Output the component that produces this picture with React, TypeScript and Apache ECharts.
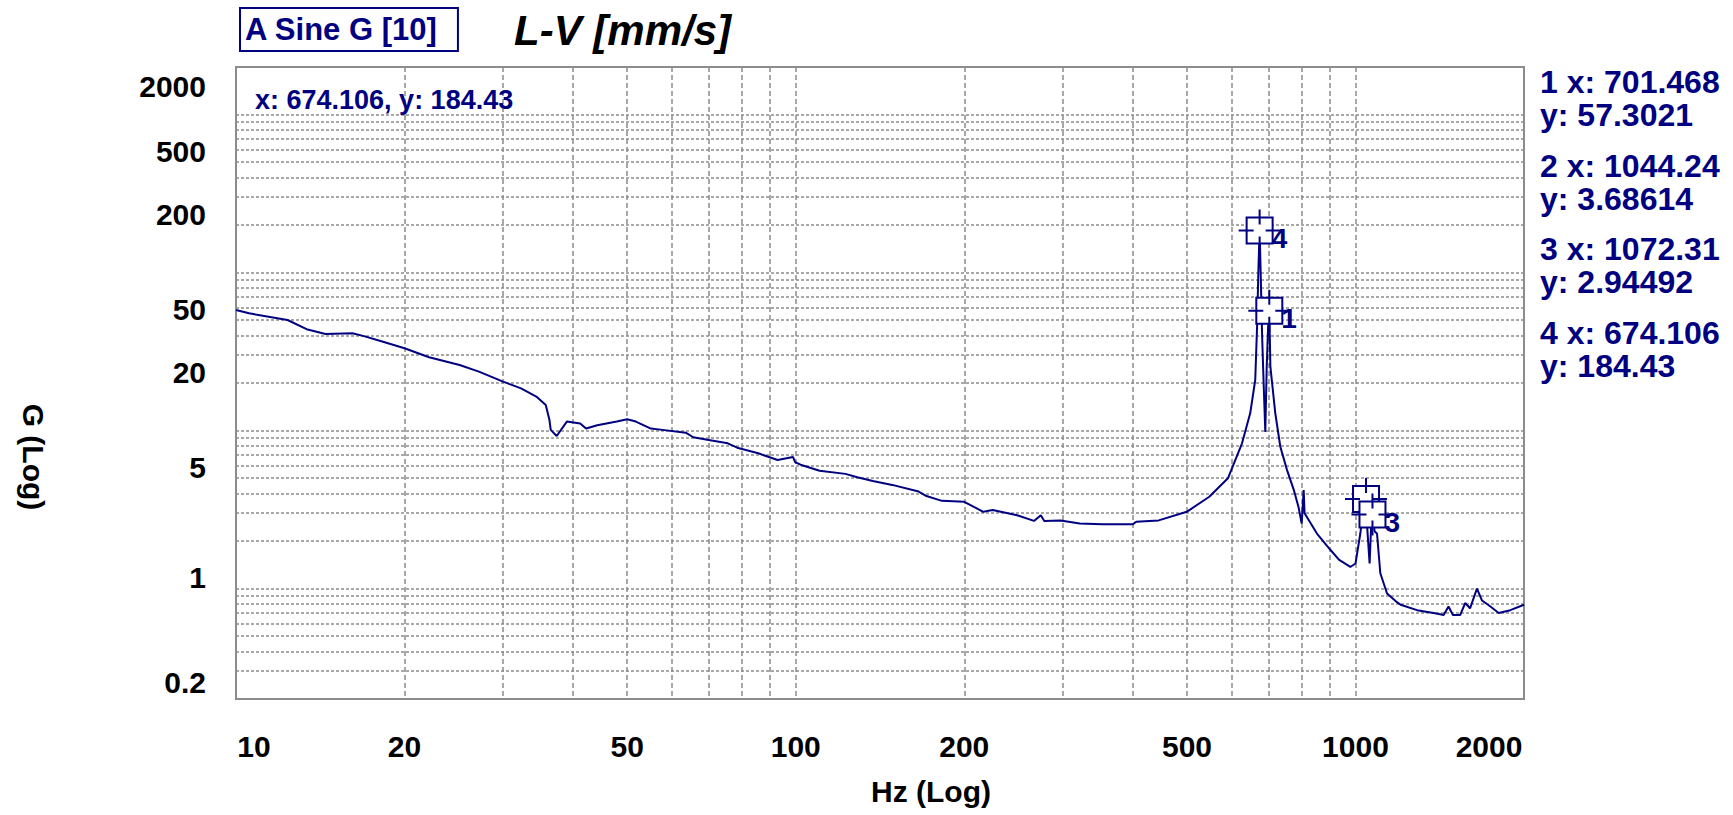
import React, { useEffect, useRef } from 'react';
import * as echarts from 'echarts';

// ---- data ----
const freqHz = [
  10, 10.55, 12.36, 13.37, 14.45, 16.14, 16.93, 18.31, 20, 22.13, 25.09, 27.16, 30, 32.3, 34.4, 35.76,
  36.3, 36.5, 37.4, 39.0, 41.2, 42.2, 44.2, 47.9, 50, 51.8, 55.1, 57.8, 63.6, 65.6, 69.9, 75.6, 78.6,
  85.7, 92.8, 98.9, 99.8, 102, 110.3, 122.7, 128.8, 137.3, 148.7, 165.8, 171.2, 182.4, 200, 216.3,
  224.8, 248.6, 266.5, 274, 278, 297.3, 321.6, 352.6, 399.7, 405.8, 445, 499.5, 548, 591.7, 627,
  648.6, 662, 667, 671, 674.106, 677, 681, 686, 690, 694, 698, 701.468, 704.6, 718.9, 734, 754.6,
  776, 791, 801.5, 808, 811, 853.3, 901.6, 935, 979, 1000, 1020, 1034, 1044.24, 1050, 1059.7, 1066,
  1072.31, 1082, 1092.5, 1107.5, 1138.6, 1185.9, 1204, 1288, 1379, 1437, 1466, 1493, 1538, 1570,
  1602, 1648, 1683, 1742, 1802, 1891, 2000,
];
const gValues = [
  58, 55.2, 50.1, 43.8, 40.8, 41.3, 39.6, 36.5, 33.2, 29.1, 26.0, 23.6, 20.4, 18.5, 16.4, 14.5,
  11.7, 10.1, 9.24, 11.4, 11.1, 10.3, 10.8, 11.4, 11.8, 11.4, 10.3, 10.1, 9.69, 9.07, 8.71, 8.30, 7.79,
  7.18, 6.51, 6.8, 6.3, 6.08, 5.57, 5.32, 5.07, 4.8, 4.53, 4.11, 3.85, 3.59, 3.54, 3.06,
  3.14, 2.91, 2.68, 2.91, 2.68, 2.70, 2.58, 2.55, 2.55, 2.65, 2.70, 3.06, 3.81, 4.99, 8.30,
  12.9, 20.9, 45, 110, 184.43, 100, 40, 18, 9.8, 25, 45, 57.3021, 25.4, 12.9, 7.9, 5.62,
  4.2, 3.28, 2.58, 4.2, 3.0, 2.23, 1.76, 1.52, 1.37, 1.44, 2.23, 3.3, 3.68614, 2.35, 1.44, 2.4,
  2.94492, 2.3, 2.23, 1.25, 0.93, 0.82, 0.79, 0.73, 0.70, 0.68, 0.77, 0.68, 0.68, 0.81,
  0.75, 1.0, 0.84, 0.77, 0.70, 0.73, 0.79,
];

const markerIds = ['1', '2', '3', '4'];
const markerFreq = [701.468, 1044.24, 1072.31, 674.106];
const markerG = [57.3021, 3.68614, 2.94492, 184.43];
const markerLabelShown = [true, false, true, true];
const activeMarker = 3;

const seriesName = 'A Sine G [10]';
const chartTitle = 'L-V [mm/s]';
const xAxisTitle = 'Hz (Log)';
const yAxisTitle = 'G (Log)';

const xLabelValues = [10, 20, 50, 100, 200, 500, 1000, 2000];
const yLabelValues = [0.2, 1, 5, 20, 50, 200, 500, 2000];
const xGridValues = [20, 30, 40, 50, 60, 70, 80, 90, 100, 200, 300, 400, 500, 600, 700, 800, 900, 1000];
const yGridValues = [
  0.3, 0.4, 0.5, 0.6, 0.7, 0.8, 0.9, 1, 2, 3, 4, 5, 6, 7, 8, 9, 10, 20, 30, 40, 50, 60, 70, 80, 90,
  100, 200, 300, 400, 500, 600, 700, 800, 900, 1000,
];

const X_MIN = 10;
const X_MAX = 2000;
const Y_MIN = 0.2;
const Y_MAX = 2000;

// ---- styles ----
const FONT = 'Liberation Sans, Arial, Helvetica, sans-serif';
const NAVY = '#000080';
const GRID_GRAY = '#8c8c8c';

const close = (a: number, b: number) => Math.abs(a - b) / b < 1e-4;
const fmt = (v: number) => String(Number(Number(v).toPrecision(6)));

export default function App() {
  const ref = useRef<HTMLDivElement>(null);

  useEffect(() => {
    if (!ref.current) return;
    const chart = echarts.init(ref.current, undefined, { renderer: 'svg' });

    const labelBase = { fontFamily: FONT, fontWeight: 'bold', fontSize: 30, color: '#000' };

    const listTexts: any[] = [];
    markerIds.forEach((id, i) => {
      const y0 = 82 + i * 83.5;
      listTexts.push({
        type: 'text', x: 1540, y: y0,
        style: { text: `${id} x: ${markerFreq[i]}`, fill: NAVY, font: `bold 32px ${FONT}`, verticalAlign: 'middle', align: 'left' },
      });
      listTexts.push({
        type: 'text', x: 1540, y: y0 + 33,
        style: { text: `y: ${markerG[i]}`, fill: NAVY, font: `bold 32px ${FONT}`, verticalAlign: 'middle', align: 'left' },
      });
    });

    const markerPath =
      'path://M-13,-13 L13,-13 L13,13 L-13,13 Z M0,-21 L0,-6 M0,6 L0,21 M-21,0 L-6,0 M6,0 L21,0';

    const option: any = {
      animation: false,
      backgroundColor: '#ffffff',
      title: {
        text: chartTitle,
        left: 514,
        top: 9,
        padding: 0,
        textStyle: { fontFamily: FONT, fontStyle: 'italic', fontWeight: 'bold', fontSize: 42, color: '#000' },
      },
      legend: {
        data: [{ name: seriesName, icon: 'none' }],
        left: 240,
        top: 8,
        itemWidth: 0,
        itemHeight: 10,
        itemGap: 0,
        padding: [6, 20, 6, 0],
        borderColor: NAVY,
        borderWidth: 2,
        selectedMode: false,
        textStyle: { fontFamily: FONT, fontWeight: 'bold', fontSize: 31, color: NAVY },
      },
      grid: {
        left: 236, top: 67, width: 1288, height: 632,
        show: true, borderColor: GRID_GRAY, borderWidth: 2, backgroundColor: '#fff',
      },
      xAxis: {
        type: 'log',
        logBase: 10,
        min: X_MIN,
        max: X_MAX,
        axisLine: { show: false },
        axisTick: { show: false, customValues: xGridValues },
        splitLine: { show: true, lineStyle: { color: GRID_GRAY, width: 1.5, type: [5, 3] } },
        axisLabel: {
          customValues: xLabelValues,
          margin: 32,
          formatter: (v: number) => {
            const s = fmt(v);
            if (close(v, X_MIN)) return `{first|${s}}`;
            if (close(v, X_MAX)) return `{last|${s}}`;
            return `{mid|${s}}`;
          },
          rich: {
            first: { ...labelBase, padding: [0, 0, 0, 36] },
            last: { ...labelBase, padding: [0, 70, 0, 0] },
            mid: { ...labelBase },
          },
        },
      },
      yAxis: {
        type: 'log',
        logBase: 10,
        min: Y_MIN,
        max: Y_MAX,
        axisLine: { show: false },
        axisTick: { show: false, customValues: yGridValues },
        splitLine: { show: true, lineStyle: { color: GRID_GRAY, width: 1.5, type: [3, 2] } },
        axisLabel: {
          customValues: yLabelValues,
          margin: 30,
          formatter: (v: number) => {
            const s = fmt(v);
            if (close(v, Y_MIN)) return `{lo|${s}}`;
            if (close(v, Y_MAX)) return `{hi|${s}}`;
            return `{mid|${s}}`;
          },
          rich: {
            lo: { ...labelBase, padding: [0, 0, 34, 0] },
            hi: { ...labelBase, padding: [38, 0, 0, 0] },
            mid: { ...labelBase, padding: [0, 0, 22, 0] },
          },
        },
      },
      series: [
        {
          name: seriesName,
          type: 'line',
          data: freqHz.map((f, i) => [f, gValues[i]]),
          showSymbol: false,
          symbol: 'none',
          color: NAVY,
          lineStyle: { color: NAVY, width: 2 },
          z: 2,
          silent: true,
        },
        {
          name: 'markers',
          type: 'scatter',
          data: markerFreq.map((f, i) => ({
            name: markerIds[i],
            value: [f, markerG[i]],
            label: { show: markerLabelShown[i] },
          })),
          symbol: markerPath,
          symbolSize: 42,
          symbolKeepAspect: true,
          itemStyle: { color: '#ffffff', borderColor: NAVY, borderWidth: 2, opacity: 1 },
          label: {
            show: true,
            formatter: '{b}',
            position: [34, 30],
            align: 'left',
            verticalAlign: 'middle',
            fontFamily: FONT,
            fontWeight: 'bold',
            fontSize: 28,
            color: NAVY,
          },
          z: 3,
          silent: true,
        },
      ],
      graphic: [
        {
          type: 'text', x: 255, y: 100, z: 10,
          style: {
            text: `x: ${markerFreq[activeMarker]}, y: ${markerG[activeMarker]}`,
            fill: NAVY, font: `bold 27px ${FONT}`, verticalAlign: 'middle', align: 'left',
          },
        },
        ...listTexts,
        {
          type: 'text', x: 931, y: 791,
          style: { text: xAxisTitle, fill: '#000', font: `bold 30px ${FONT}`, align: 'center', verticalAlign: 'middle' },
        },
        {
          type: 'text', x: 33, y: 457, rotation: -Math.PI / 2,
          style: { text: yAxisTitle, fill: '#000', font: `bold 30px ${FONT}`, align: 'center', verticalAlign: 'middle' },
        },
      ],
    };

    chart.setOption(option);
    return () => chart.dispose();
  }, []);

  return (
    <div
      ref={ref}
      style={{ position: 'fixed', left: 0, top: 0, width: 1733, height: 815, background: '#fff' }}
    />
  );
}
